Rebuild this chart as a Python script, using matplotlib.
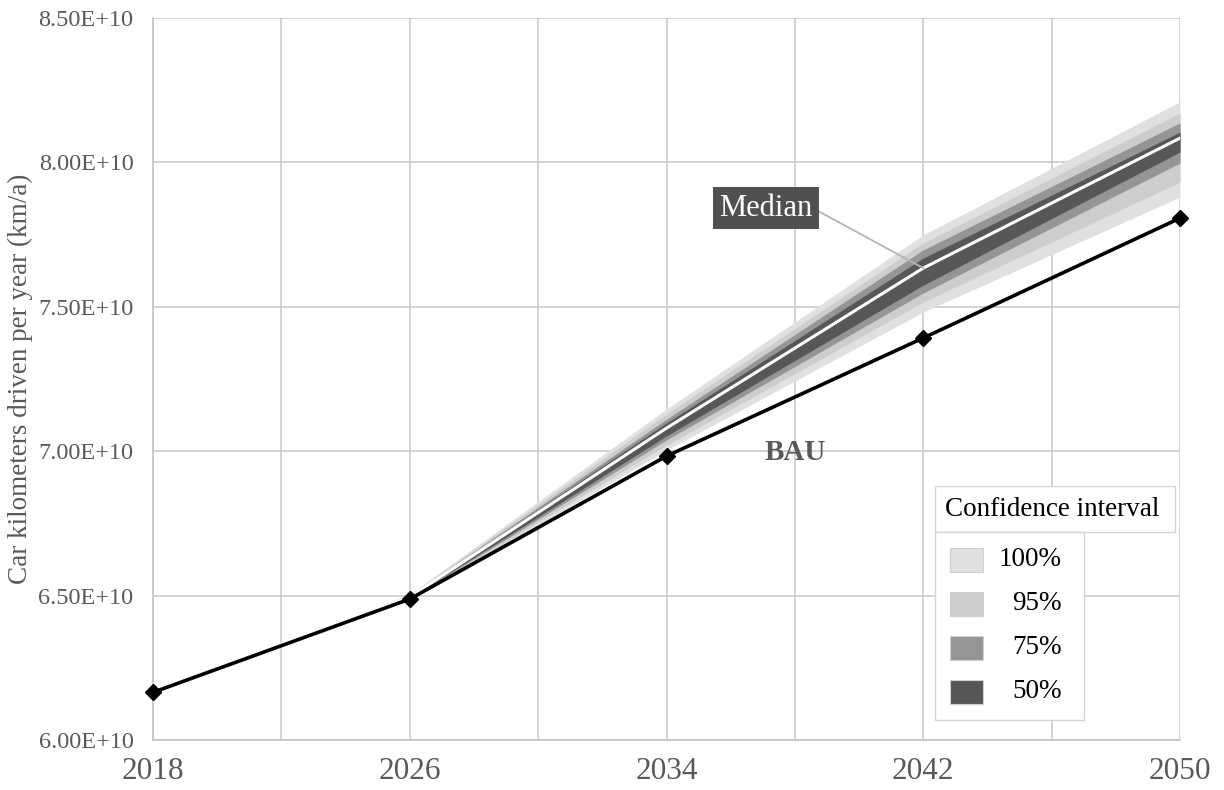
import matplotlib.pyplot as plt
import numpy as np
from matplotlib.patches import Rectangle
from matplotlib.ticker import FixedLocator, FuncFormatter, MultipleLocator

plt.rcParams['font.family'] = ['Liberation Serif', 'DejaVu Serif']

# Car kilometres driven per year, in units of 1E+10 km/a
years = [2018, 2026, 2034, 2042, 2050]
bau = [6.165, 6.488, 6.983, 7.392, 7.807]
median = [6.165, 6.495, 7.080, 7.634, 8.084]
ci100_low = [6.165, 6.485, 7.004, 7.482, 7.880]
ci100_high = [6.165, 6.505, 7.146, 7.749, 8.210]
ci95_low = [6.165, 6.488, 7.021, 7.517, 7.932]
ci95_high = [6.165, 6.502, 7.129, 7.721, 8.171]
ci75_low = [6.165, 6.490, 7.039, 7.548, 7.998]
ci75_high = [6.165, 6.500, 7.111, 7.697, 8.137]
ci50_low = [6.165, 6.492, 7.053, 7.575, 8.036]
ci50_high = [6.165, 6.498, 7.098, 7.669, 8.105]

band_labels = ['100%', '95%', '75%', '50%']
band_colors = ['#e0e0e0', '#cdcdcd', '#959595', '#575757']

scale = 1e10
TEXT_GREY = '#595959'
GRID_GREY = '#c8c8c8'

fig = plt.figure(figsize=(12.24, 7.90), dpi=100)
ax = fig.add_axes((153 / 1224, 1 - 740 / 790, 1027 / 1224, 722 / 790))

yrs = np.array(years)
bands = [(ci100_low, ci100_high), (ci95_low, ci95_high),
         (ci75_low, ci75_high), (ci50_low, ci50_high)]
for (lo, hi), color in zip(bands, band_colors):
    ax.fill_between(yrs, np.array(lo) * scale, np.array(hi) * scale,
                    color=color, linewidth=0, zorder=2)

ax.plot(yrs, np.array(median) * scale, color='white', lw=2.2, zorder=3)
ax.plot(yrs, np.array(bau) * scale, color='black', lw=2.6, marker='D',
        markersize=8.5, zorder=4, clip_on=False)

ax.set_xlim(years[0], years[-1])
ax.set_ylim(6.0 * scale, 8.5 * scale)
ax.xaxis.set_major_locator(FixedLocator(years))
ax.xaxis.set_minor_locator(FixedLocator(np.arange(years[0], years[-1] + 1, 4)))
ax.yaxis.set_major_locator(MultipleLocator(0.5 * scale))
ax.yaxis.set_major_formatter(FuncFormatter(lambda v, _: f'{v / scale:.2f}E+10'))
ax.grid(True, which='both', axis='x', color=GRID_GREY, lw=1.1, zorder=0)
ax.grid(True, which='major', axis='y', color=GRID_GREY, lw=1.1, zorder=0)
ax.set_axisbelow(True)

for side in ('top', 'right'):
    ax.spines[side].set_visible(False)
for side in ('left', 'bottom'):
    ax.spines[side].set_color('#bfbfbf')
    ax.spines[side].set_linewidth(1.1)

ax.tick_params(which='both', length=0)
ax.tick_params(axis='x', labelsize=22.5, labelcolor=TEXT_GREY, pad=12)
ax.tick_params(axis='y', labelsize=17.5, labelcolor=TEXT_GREY, pad=14)
ax.set_ylabel('Car kilometers driven per year (km/a)', fontsize=19.5,
              color=TEXT_GREY, labelpad=4)

# Median callout with a leader line to the 2042 median
ax.annotate('Median', xy=(2042, median[3] * scale), xytext=(2037.1, 7.842 * scale),
            fontsize=22, color='white', ha='center', va='center', zorder=6,
            bbox=dict(boxstyle='square,pad=0.2', facecolor='#505050', edgecolor='none'),
            arrowprops=dict(arrowstyle='-', color='#b4b4b4', lw=1.3,
                            relpos=(1.0, 0.5), shrinkA=0, shrinkB=0))

ax.text(2038.0, 6.997 * scale, 'BAU', fontsize=21, fontweight='bold',
        color=TEXT_GREY, ha='center', va='center', zorder=6)

# Legend: title box on top, entries box below
W, H = 1224, 790


def fx(px):
    return px / W


def fy(py):
    return 1 - py / H


fig.patches.append(Rectangle((fx(935), fy(532)), fx(1175) - fx(935), fy(486) - fy(532),
                             transform=fig.transFigure, facecolor='white',
                             edgecolor='#d4d4d4', lw=1.0, zorder=5))
fig.text(fx(1052), fy(509), 'Confidence interval', fontsize=19.5, color='black',
         ha='center', va='center', zorder=6)
fig.patches.append(Rectangle((fx(935), fy(720)), fx(1084) - fx(935), fy(532) - fy(720),
                             transform=fig.transFigure, facecolor='white',
                             edgecolor='#d4d4d4', lw=1.0, zorder=5))
for i, (label, color) in enumerate(zip(band_labels, band_colors)):
    yc = 560 + i * 44
    fig.patches.append(Rectangle((fx(950), fy(yc + 12)), fx(33), 24 / H,
                                 transform=fig.transFigure, facecolor=color,
                                 edgecolor='#d0d0d0', lw=0.8, zorder=6))
    fig.text(fx(1062), fy(yc), label, fontsize=19.5, color='black',
             ha='right', va='center', zorder=6)

fig.savefig('out.png', dpi=100)
